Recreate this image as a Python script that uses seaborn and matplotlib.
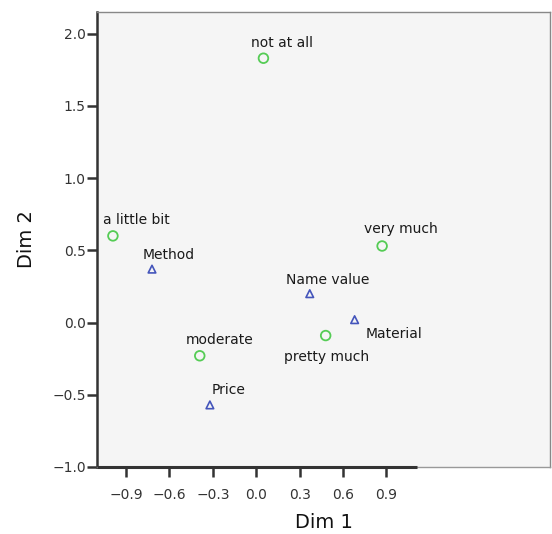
import numpy as np
import pandas as pd
import seaborn as sns
import matplotlib.pyplot as plt

# category points (circles) and variable points (triangles)
cat_labels = ['not at all', 'a little bit', 'very much', 'pretty much', 'moderate']
cat_dim1 = [0.05, -0.99, 0.87, 0.48, -0.39]
cat_dim2 = [1.83, 0.60, 0.53, -0.09, -0.23]

var_labels = ['Method', 'Name value', 'Material', 'Price']
var_dim1 = [-0.72, 0.37, 0.68, -0.32]
var_dim2 = [0.37, 0.20, 0.02, -0.57]

x_ticks = [-0.9, -0.6, -0.3, 0.0, 0.3, 0.6, 0.9]
y_ticks = [-1.0, -0.5, 0.0, 0.5, 1.0, 1.5, 2.0]

sns.set_style("white")
plt.rcParams['font.family'] = ['DejaVu Sans']

cats = pd.DataFrame({"label": cat_labels, "dim1": cat_dim1, "dim2": cat_dim2})
vars_ = pd.DataFrame({"label": var_labels, "dim1": var_dim1, "dim2": var_dim2})

fig = plt.figure(figsize=(5.52, 5.34), dpi=100)
ax = fig.add_axes([97 / 552, 67 / 534, 453 / 552, 455 / 534])
ax.set_facecolor('#f5f5f5')

green = '#55cc55'
blue = '#4455bb'
sns.scatterplot(data=cats, x="dim1", y="dim2", ax=ax, marker='o', s=48,
                color=green, facecolor='none', edgecolor=green, linewidth=1.3,
                legend=False)
sns.scatterplot(data=vars_, x="dim1", y="dim2", ax=ax, marker='^', s=30,
                color=blue, facecolor='none', edgecolor=blue, linewidth=1.2,
                legend=False)

# label offsets in pixels (SPSS-style placement)
cat_off = {'not at all': (19, 15), 'a little bit': (23, 16), 'very much': (19, 17),
           'pretty much': (1, -21), 'moderate': (20, 16)}
var_off = {'Method': (17, 14), 'Name value': (18, 14), 'Material': (39, -14),
           'Price': (19, 15)}
for df, off in [(cats, cat_off), (vars_, var_off)]:
    for _, r in df.iterrows():
        ax.annotate(r["label"], (r["dim1"], r["dim2"]), xytext=off[r["label"]],
                    textcoords='offset pixels', ha='center', va='center',
                    fontsize=10, color='#1a1a1a')

ax.set_xlim(-1.1, 2.03)
ax.set_ylim(-1.0, 2.15)
ax.set_xticks(x_ticks)
ax.set_yticks(y_ticks)
ax.set_xticklabels([f"{t:.1f}".replace('-', '\u2212') for t in x_ticks])
ax.set_yticklabels([f"{t:.1f}".replace('-', '\u2212') for t in y_ticks])
ax.tick_params(axis='both', bottom=True, left=True, direction='out', length=7,
               width=1.8, labelsize=10, colors='#333333', labelcolor='#333333')
ax.tick_params(axis='x', pad=8)
ax.tick_params(axis='y', pad=1)

for side in ['top', 'right']:
    ax.spines[side].set_color('#888888')
    ax.spines[side].set_linewidth(1.0)
ax.spines['left'].set_color('#333333')
ax.spines['left'].set_linewidth(1.8)
ax.spines['bottom'].set_color('#999999')
ax.spines['bottom'].set_linewidth(1.0)
# dark axis line only over the data range
ax.plot([-1.1, 1.11], [-1.0, -1.0], color='#333333', lw=2.2, clip_on=False,
        solid_capstyle='butt', zorder=5)

ax.set_xlabel("Dim 1", fontsize=14, labelpad=8, color='#111111')
ax.set_ylabel("Dim 2", fontsize=14, labelpad=12, color='#111111')

fig.savefig("out.png", dpi=100)
